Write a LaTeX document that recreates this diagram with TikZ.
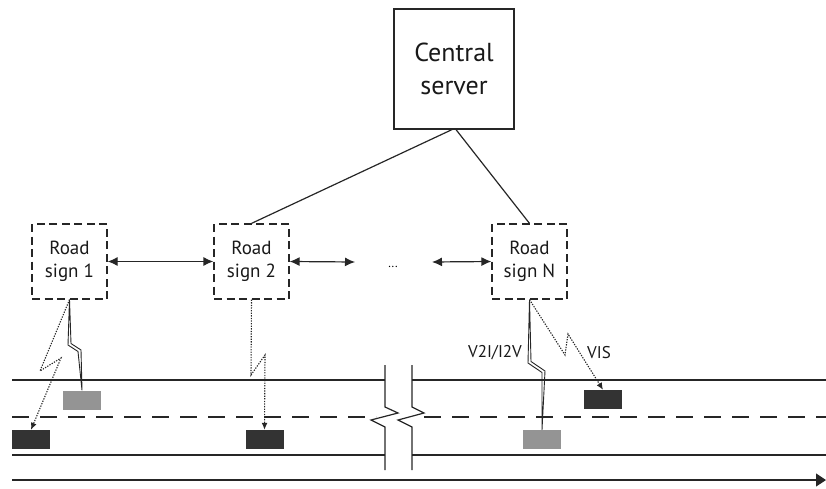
\documentclass[tikz,border=0pt]{standalone}
\usepackage{fontspec}
\setmainfont{PT Sans}
\usetikzlibrary{arrows.meta,calc}
\begin{document}
\begin{tikzpicture}[x=1pt,y=-1pt,
  ink/.style={draw=black!85},
  server/.style={ink, line width=1.2pt, minimum width=120pt, minimum height=120pt, inner sep=0pt, align=center, font=\fontsize{26}{33}\selectfont, text=black!90},
  sign/.style={ink, line width=1.2pt, dash pattern=on 8pt off 4.5pt, minimum width=75pt, minimum height=75pt, inner sep=0pt, align=center, font=\fontsize{19}{23}\selectfont, text=black!90},
  lightcar/.style={fill=black!42, minimum width=38pt, minimum height=19pt, inner sep=0pt},
  darkcar/.style={fill=black!80, minimum width=38pt, minimum height=19pt, inner sep=0pt},
  link/.style={ink, line width=1.2pt},
  dbl/.style={ink, line width=1.2pt, {Latex[length=10pt,width=9pt]}-{Latex[length=10pt,width=9pt]}},
  vis/.style={ink, line width=1.1pt, dash pattern=on 1.3pt off 1.3pt, -{Latex[length=7pt,width=6pt]}},
  bolt/.style={ink, line width=0.9pt, line join=miter},
  road/.style={ink, line width=1.2pt},
  lbl/.style={font=\fontsize{17}{20}\selectfont, text=black!90}
]
\useasboundingbox (0,0) rectangle (826,489);

% nodes
\node[server] (srv) at (454,69) {Central\\server};
\node[sign] (rs1) at (69.5,261.5) {Road\\sign 1};
\node[sign] (rs2) at (251.5,261.5) {Road\\sign 2};
\node[sign] (rsN) at (529.5,261.5) {Road\\sign N};
\node[font=\fontsize{12}{14}\selectfont] (dots) at (393,267) {...};
\coordinate (dl) at (355,262);
\coordinate (dr) at (432,262);

% links to server
\draw[link] ([xshift=-2pt]srv.south) -- (rs2.north);
\draw[link] ([xshift=2pt]srv.south) -- (rsN.north);

% double arrows
\draw[dbl] (rs1.east) -- (rs2.west);
\draw[dbl] (rs2.east) -- (dl);
\draw[dbl] (dr) -- (rsN.west);

% road
\draw[road] (12,380) -- (385,380);
\draw[road] (412,380) -- (826,380);
\draw[road] (12,455) -- (385,455);
\draw[road] (412,455) -- (826,455);
\draw[road, dash pattern=on 17pt off 11pt] (12,417) -- (376,417);
\draw[road, dash pattern=on 17pt off 11pt] (424,417) -- (826,417);
\draw[road] (385,365) -- (385,407) -- (398,413) -- (371,420) -- (385,427) -- (385,470);
\draw[road] (412,365) -- (412,407) -- (424,413) -- (398,420) -- (412,427) -- (412,470);
\draw[road, -{Triangle[length=10pt,width=13pt]}] (12,480) -- (826,480);

% cars
\node[lightcar] (c1) at (82,400) {};
\node[darkcar] (c2) at (31,439.5) {};
\node[darkcar] (c3) at (264.5,439.5) {};
\node[darkcar] (c4) at (603,399.5) {};
\node[lightcar] (c5) at (542,439.5) {};

% lightning bolts (V2I/I2V)
\coordinate (a1) at (68,345);
\coordinate (a2) at (81,350);
\draw[bolt] (rs1.south) -- (a1) -- ($(a2)+(-3,1.5)$) -- (c1.north) -- (a2) -- ($(a1)+(3,-1.5)$) -- cycle;
\coordinate (b1) at (528,363);
\coordinate (b2) at (545,371);
\draw[bolt] (rsN.south) -- (b1) -- ($(b2)+(-3,1.5)$) -- (c5.north) -- (b2) -- ($(b1)+(3,-1.5)$) -- cycle;

% VIS dotted arrows
\draw[vis] (rs1.south) -- (40,371) -- (61,358) -- (c2.north);
\draw[vis] (rs2.south) -- (251,375) -- (265,355) -- (c3.north);
\draw[vis] (rsN.south) -- (565,355) -- (568,334) -- (c4.north);

% labels
\node[lbl] (l1) at (495,353) {V2I/I2V};
\node[lbl] (l2) at (599,353) {VIS};
\end{tikzpicture}
\end{document}
